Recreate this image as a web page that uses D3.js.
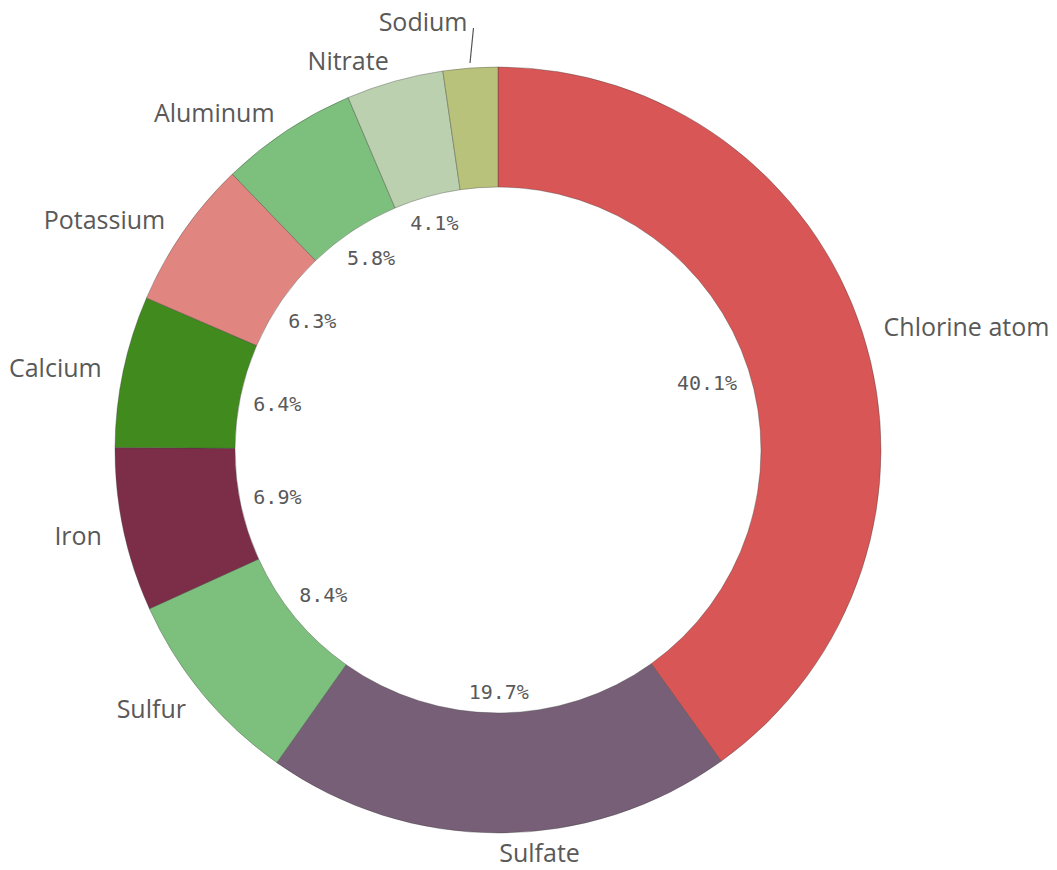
<!DOCTYPE html>
<html><head><meta charset="utf-8">
<script src="https://cdn.jsdelivr.net/npm/d3@7"></script>
<style>html,body{margin:0;padding:0;background:#fff;}svg{display:block;}</style>
</head><body>
<svg id="chart" width="1057" height="870"></svg>
<script>
const categories = ["Chlorine atom","Sulfate","Sulfur","Iron","Calcium","Potassium","Aluminum","Nitrate","Sodium"];
const values = [40.1,19.7,8.4,6.9,6.4,6.3,5.8,4.1,2.3];
const colors = ["#d95656","#776077","#7dc07d","#7c2e49","#408a1e","#e0857f","#7dc07d","#bbd0ae","#b8c27a"];
const minPctLabel = 3;

const W = 1057, H = 870;
const svg = d3.select("#chart");
const cx = 498, cy = 450, R = 383, r0 = 263;
const g = svg.append("g").attr("transform", `translate(${cx},${cy})`);
const data = categories.map((c,i)=>({name:c, value:values[i], color:colors[i]}));
const pie = d3.pie().value(d=>d.value).sort(null);
const arcs = pie(data);
const arc = d3.arc().innerRadius(r0).outerRadius(R);

g.selectAll("path.slice").data(arcs).join("path")
  .attr("class","slice").attr("d",arc)
  .attr("fill",d=>d.data.color)
  .attr("stroke","rgba(60,60,60,0.45)").attr("stroke-width",0.8);

// percent labels inside hole
const pctG = g.append("g");
arcs.forEach(a=>{
  if (a.data.value < minPctLabel) return;
  const m = (a.startAngle+a.endAngle)/2;
  const s = Math.sin(m), c = -Math.cos(m);
  const t = pctG.append("text").text(d3.format(".1f")(a.data.value)+"%")
    .attr("font-family","'DejaVu Sans Mono', monospace").attr("font-size",20)
    .attr("fill","#595959").attr("text-anchor","middle").attr("dominant-baseline","central");
  const bb = t.node().getBBox();
  const half = Math.abs(s)*bb.width/2 + Math.abs(c)*9;
  const rr = r0 - 12 - half;
  t.attr("x", rr*s).attr("y", rr*c);
});

// outer labels
const LR = 405;
const lab = arcs.map(a=>{
  const m = (a.startAngle+a.endAngle)/2;
  return {a, m, x: LR*Math.sin(m), y: -LR*Math.cos(m), right: Math.sin(m) >= -0.001};
});
const labG = g.append("g");
lab.forEach(l=>{
  l.t = labG.append("text").text(l.a.data.name)
    .attr("font-family","'Open Sans', sans-serif").attr("font-size",25)
    .attr("fill","#595959").attr("dominant-baseline","central")
    .attr("text-anchor", l.right ? "start":"end")
    .attr("x", l.x).attr("y", l.y);
  // keep inside the picture
  const bb = l.t.node().getBBox();
  const maxY = H - cy - bb.height/2 - 1;
  if (l.y > maxY) l.t.attr("y", maxY);
});
// resolve overlaps (left side, going up toward top)
for (let i=1;i<lab.length;i++){
  const p = lab[i-1], l = lab[i];
  if (l.right || p.right) continue;
  const pb = p.t.node().getBBox(), lb = l.t.node().getBBox();
  const ox = lb.x < pb.x+pb.width && lb.x+lb.width > pb.x;
  const oy = lb.y < pb.y+pb.height && lb.y+lb.height > pb.y;
  if (ox && oy){
    const ny = pb.y - 5 - lb.height/2;
    const m = l.m;
    const p0 = [(R+5)*Math.sin(m), -(R+5)*Math.cos(m)];
    const topX = p0[0] + 3.5, topY = ny + 7;
    g.append("line").attr("x1",p0[0]).attr("y1",p0[1]).attr("x2",topX).attr("y2",topY)
      .attr("stroke","#555").attr("stroke-width",1.2);
    l.t.attr("x", topX - 6).attr("y", ny);
  }
}
</script>
</body></html>
